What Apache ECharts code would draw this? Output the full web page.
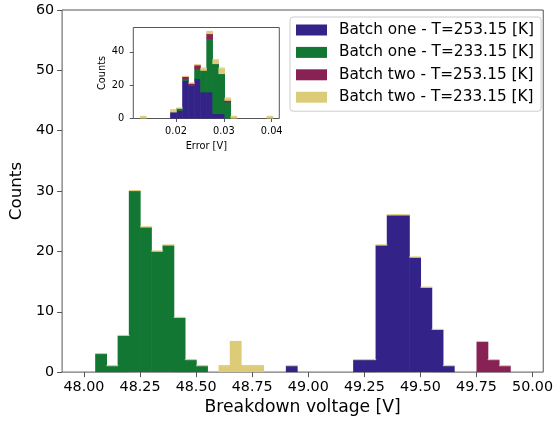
<!DOCTYPE html>
<html>
<head>
<meta charset="utf-8">
<script src="https://cdn.jsdelivr.net/npm/echarts@6/dist/echarts.min.js"></script>
<style>html,body{margin:0;padding:0;background:#fff}#c{width:556px;height:421px}</style>
</head>
<body>
<div id="c"></div>
<script>
// ---- Main histogram: bins of 0.05 V starting at 48.00 (39 bins) ----
const mainBinStart = 48.00;
const mainBinWidth = 0.05;
const seriesNames = ['Batch one - T=253.15 [K]', 'Batch one - T=233.15 [K]', 'Batch two - T=253.15 [K]', 'Batch two - T=233.15 [K]'];
const seriesColors = ['#332288', '#117733', '#882255', '#DDCC77'];
//                 48.00            48.25            48.50            48.75            49.00            49.25             49.50             49.75
const mainBatch1Warm = [0,0,0,0,0, 0,0,0,0,0, 0,0,0,0,0, 0,0,0,1,0, 0,0,0,0,2, 2,21,26,26,19, 14,7,1,0,0, 0,0,0,0];
const mainBatch1Cold = [0,3,1,6,30, 24,20,21,9,2, 1,0,0,0,0, 0,0,0,0,0, 0,0,0,0,0, 0,0,0,0,0, 0,0,0,0,0, 0,0,0,0];
const mainBatch2Warm = [0,0,0,0,0, 0,0,0,0,0, 0,0,0,0,0, 0,0,0,0,0, 0,0,0,0,0, 0,0,0,0,0, 0,0,0,0,0, 5,2,1,0];
const mainBatch2Cold = [0,0,0,0,0, 0,0,0,0,0, 0,0,1,5,1, 1,0,0,0,0, 0,0,0,0,0, 0,0,0,0,0, 0,0,0,0,0, 0,0,0,0];
const mainXTicks = [48.00, 48.25, 48.50, 48.75, 49.00, 49.25, 49.50, 49.75, 50.00];
const mainYTicks = [0, 10, 20, 30, 40, 50, 60];

// ---- Inset histogram of errors: 22 bins ----
const insetBinStart = 0.01246;
const insetBinWidth = 0.0012614;
const insetBatch1Warm = [0,0,0,0,0, 4,5,23,20,24, 16,16,3,3,0, 0,0,0,0,0, 0,0];
const insetBatch1Cold = [0,0,0,0,0, 0,1,1,0,6, 13,32,30,24,10, 0,0,0,0,0, 0,0];
const insetBatch2Warm = [0,0,0,0,0, 0,0,1,1,2, 0,3,0,0,1, 0,0,0,0,0, 0,0];
const insetBatch2Cold = [1,0,0,0,0, 1,0,0,0,0, 1,1,2,3,1, 1,0,0,0,0, 0,1];
const insetXTicks = [0.02, 0.03, 0.04];
const insetYTicks = [0, 20, 40];

function stackItems(groups, binStart, binWidth) {
  const n = groups[0].length;
  const out = groups.map(() => []);
  for (let i = 0; i < n; i++) {
    let bottom = 0;
    let total = 0;
    groups.forEach(g => total += g[i]);
    groups.forEach((g, s) => {
      const top = bottom + g[i];
      const isLast = s === groups.length - 1;
      out[s].push([binStart + i * binWidth, binStart + (i + 1) * binWidth, bottom, top, (isLast && total > 0) ? 1 : 0]);
      bottom = top;
    });
  }
  return out;
}

function renderer(color) {
  return function (params, api) {
    const x0 = api.value(0), x1 = api.value(1), b = api.value(2), t = api.value(3), line = api.value(4);
    const p0 = api.coord([x0, t]);
    const p1 = api.coord([x1, b]);
    const children = [];
    if (t > b) {
      children.push({type: 'rect', shape: {x: p0[0], y: p0[1], width: p1[0] - p0[0] + 0.6, height: p1[1] - p0[1] + (b > 0 ? 0.6 : 0)}, style: {fill: color}});
    }
    if (line) {
      children.push({type: 'rect', shape: {x: p0[0], y: p0[1] - 1, width: p1[0] - p0[0] + 0.6, height: 1.1}, style: {fill: seriesColors[3]}});
    }
    return {type: 'group', children: children};
  };
}

const mainStacks = stackItems([mainBatch1Warm, mainBatch1Cold, mainBatch2Warm, mainBatch2Cold], mainBinStart, mainBinWidth);
const insetStacks = stackItems([insetBatch1Warm, insetBatch1Cold, insetBatch2Warm, insetBatch2Cold], insetBinStart, insetBinWidth);

const FONT = 'DejaVu Sans';
const spine = '#555';

const series = [];
mainStacks.forEach((d, s) => series.push({
  type: 'custom', name: seriesNames[s], xAxisIndex: 0, yAxisIndex: 0, data: d,
  itemStyle: {color: seriesColors[s]}, renderItem: renderer(seriesColors[s]),
  encode: {x: [0, 1], y: [2, 3]}, silent: true, z: 2
}));
insetStacks.forEach((d, s) => series.push({
  type: 'custom', name: seriesNames[s], xAxisIndex: 1, yAxisIndex: 1, data: d,
  itemStyle: {color: seriesColors[s]}, renderItem: renderer(seriesColors[s]),
  encode: {x: [0, 1], y: [2, 3]}, silent: true, z: 2
}));

const chart = echarts.init(document.getElementById('c'), null, {renderer: 'canvas'});
chart.setOption({
  animation: false,
  backgroundColor: '#fff',
  textStyle: {fontFamily: FONT},
  grid: [
    {left: 60, right: 8.7, top: 10, bottom: 47.7, show: true, borderColor: spine, borderWidth: 1, backgroundColor: 'transparent'},
    {left: 133.3, right: 276.7, top: 27.5, bottom: 302.5, show: true, borderColor: spine, borderWidth: 1, backgroundColor: '#fff'}
  ],
  xAxis: [
    {type: 'value', gridIndex: 0, min: 47.9025, max: 50.0475,
     name: 'Breakdown voltage [V]', nameLocation: 'middle', nameGap: 24,
     nameTextStyle: {fontSize: 17.2, color: '#000', fontFamily: FONT},
     axisLine: {show: false}, splitLine: {show: false},
     axisTick: {show: true, length: 5, lineStyle: {color: spine}, customValues: mainXTicks},
     axisLabel: {fontSize: 14.3, color: '#000', margin: 8, fontFamily: FONT, customValues: mainXTicks, formatter: v => v.toFixed(2)}},
    {type: 'value', gridIndex: 1, min: 0.01107, max: 0.04159,
     name: 'Error [V]', nameLocation: 'middle', nameGap: 23,
     nameTextStyle: {fontSize: 9.8, color: '#000', fontFamily: FONT},
     axisLine: {show: false}, splitLine: {show: false},
     axisTick: {show: true, length: 3.5, lineStyle: {color: spine}, customValues: insetXTicks},
     axisLabel: {fontSize: 9.8, color: '#000', margin: 8, fontFamily: FONT, customValues: insetXTicks, formatter: v => v.toFixed(2)}}
  ],
  yAxis: [
    {type: 'value', gridIndex: 0, min: 0, max: 60,
     name: 'Counts', nameLocation: 'middle', nameGap: 30,
     nameTextStyle: {fontSize: 16.7, color: '#000', fontFamily: FONT},
     axisLine: {show: false}, splitLine: {show: false},
     axisTick: {show: true, length: 5, lineStyle: {color: spine}, customValues: mainYTicks},
     axisLabel: {fontSize: 14.3, color: '#000', margin: 8, fontFamily: FONT, customValues: mainYTicks}},
    {type: 'value', gridIndex: 1, min: 0, max: 54.6,
     name: 'Counts', nameLocation: 'middle', nameGap: 26,
     nameTextStyle: {fontSize: 9.8, color: '#000', fontFamily: FONT},
     axisLine: {show: false}, splitLine: {show: false},
     axisTick: {show: true, length: 3.5, lineStyle: {color: spine}, customValues: insetYTicks},
     axisLabel: {fontSize: 9.8, color: '#000', margin: 9, fontFamily: FONT, customValues: insetYTicks}}
  ],
  legend: {
    orient: 'vertical', left: 290, top: 17,
    data: seriesNames, icon: 'rect', itemWidth: 31, itemHeight: 11, itemGap: 7.4,
    padding: [5.5, 7, 6.5, 6], borderColor: '#ccc', borderWidth: 1, borderRadius: 3,
    backgroundColor: 'rgba(255,255,255,0.8)', selectedMode: false,
    textStyle: {fontSize: 15.3, lineHeight: 15, color: '#000', fontFamily: FONT, padding: [0, 0, 0, 7]}
  },
  series: series
});
</script>
</body>
</html>
